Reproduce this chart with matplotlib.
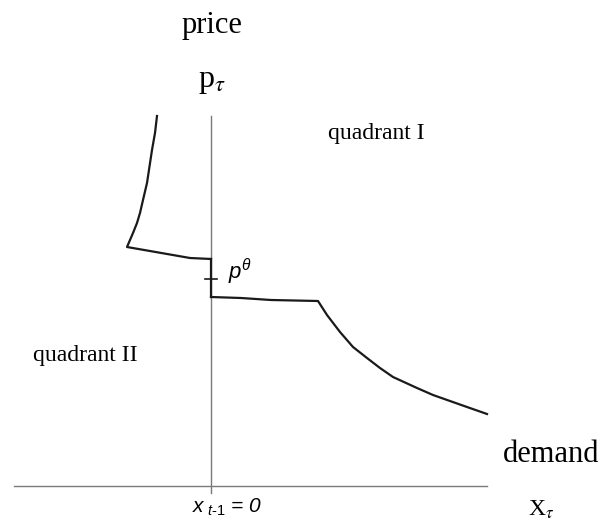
import numpy as np
import matplotlib
matplotlib.use("Agg")
import matplotlib.pyplot as plt

# supply / demand schedule around x_{t-1} = 0
left_x = [-5.4, -5.6, -5.9, -6.4, -6.8, -7.1, -7.4, -7.8, -8.1, -8.4, -2.1, 0.0]
left_y = [37.0, 35.3, 33.6, 30.3, 28.6, 27.3, 26.3, 25.3, 24.6, 23.9, 22.8, 22.7]

gap_x = [0.0, 0.0]
gap_y = [22.7, 18.9]

right_x = [0.0, 3.0, 6.0, 10.7, 11.6, 12.9, 14.2, 15.6, 16.9, 18.2, 20.6, 22.2, 23.9, 25.6, 27.6]
right_y = [18.9, 18.8, 18.6, 18.5, 17.1, 15.4, 13.9, 12.8, 11.8, 10.9, 9.8, 9.1, 8.5, 7.9, 7.2]

p_expected = 20.7

x_axis_range = [-19.7, 27.6]
y_axis_range = [-0.7, 37.0]

plt.rcParams["mathtext.fontset"] = "custom"
plt.rcParams["mathtext.rm"] = "Liberation Sans"
plt.rcParams["mathtext.it"] = "Liberation Sans:italic"

fig = plt.figure(figsize=(5.98, 5.24), dpi=100)
ax = fig.add_axes([0, 0, 1, 1])
ax.set_xlim(-21.1, 38.7)
ax.set_ylim(-3.8, 48.6)
ax.axis("off")

axis_color = "#7a7a7a"
ax.plot(x_axis_range, [0, 0], color=axis_color, lw=1.0)
ax.plot([0, 0], y_axis_range, color=axis_color, lw=1.0)

curve_color = "#1a1a1a"
ax.plot(left_x, left_y, color=curve_color, lw=1.6)
ax.plot(gap_x, gap_y, color=curve_color, lw=1.6)
ax.plot(right_x, right_y, color=curve_color, lw=1.6)
ax.plot([-0.6, 0.6], [p_expected, p_expected], color=curve_color, lw=1.2)

serif = "Liberation Serif"
ax.text(0.1, 46.1, "price", family=serif, fontsize=22, ha="center", va="center")
ax.text(0.1, 40.4, r"p$_{\tau}$", family=serif, fontsize=23, ha="center",
        va="center", math_fontfamily="stix")
ax.text(16.5, 35.2, "quadrant I", family=serif, fontsize=17, ha="center", va="center")
ax.text(-12.6, 13.0, "quadrant II", family=serif, fontsize=17, ha="center", va="center")
ax.text(34.0, 3.1, "demand", family=serif, fontsize=22, ha="center", va="center")
ax.text(33.0, -2.4, r"X$_{\tau}$", family=serif, fontsize=17, ha="center",
        va="center", math_fontfamily="stix")
ax.text(1.6, -2.1, r"$x_{\ t\text{-}1}$ = 0", family="Liberation Sans",
        style="italic", fontsize=15, ha="center", va="center")
ax.text(2.9, 21.4, r"$p^{\theta}$", fontsize=16, ha="center", va="center")

fig.savefig("out.png", dpi=100)
